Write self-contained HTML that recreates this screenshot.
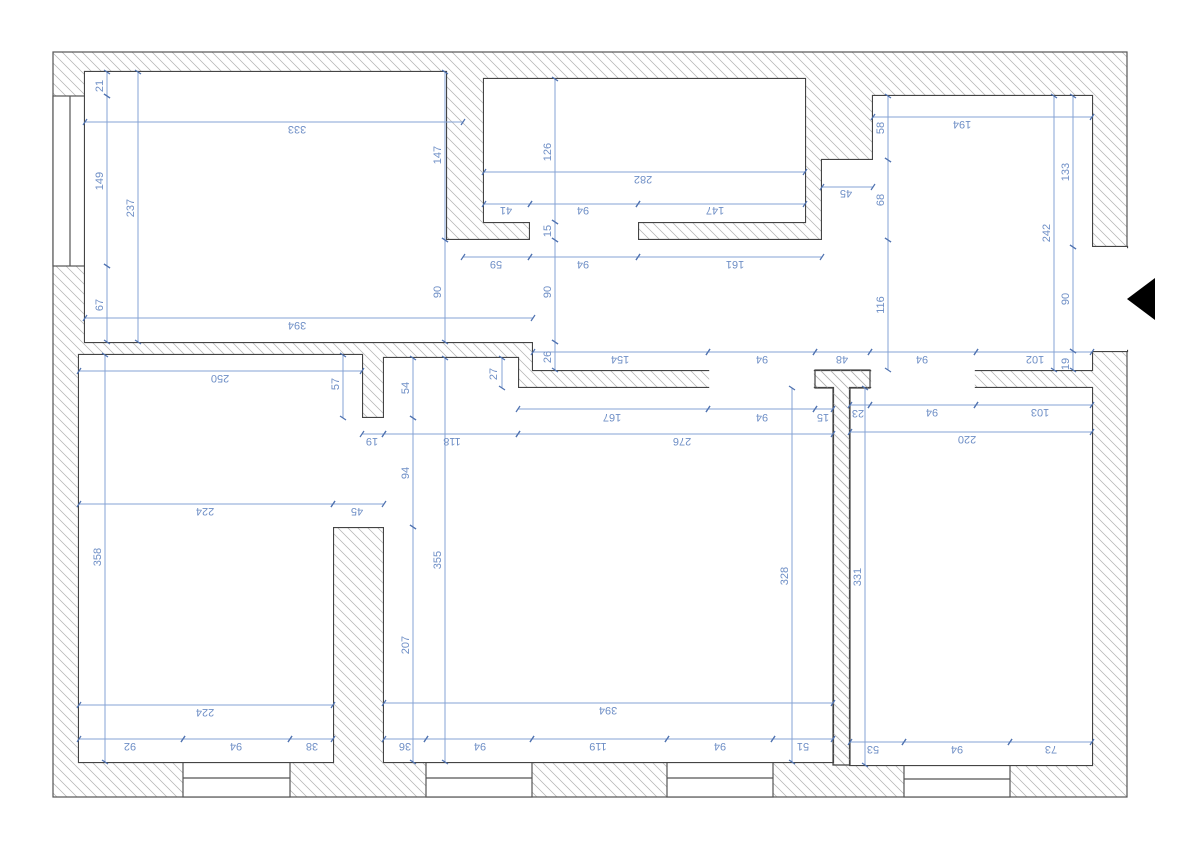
<!DOCTYPE html>
<html><head><meta charset="utf-8"><style>
html,body{margin:0;padding:0;background:#fff;}
svg{display:block;}
text{font-family:"Liberation Sans",sans-serif;font-size:11px;fill:#6f8fc6;text-anchor:middle;dominant-baseline:middle;}
.d{stroke:#86a3d4;stroke-width:1;fill:none;marker-start:url(#t);marker-end:url(#t);}
</style></head><body>
<svg width="1200" height="846" viewBox="0 0 1200 846" xmlns="http://www.w3.org/2000/svg">
<defs>
<pattern id="h" patternUnits="userSpaceOnUse" width="10" height="10">
<path d="M-2,-2 L12,12 M-2,8 L2,12 M8,-2 L12,2" stroke="#b0b0b0" stroke-width="0.7"/>
</pattern>
<marker id="t" viewBox="0 0 8 8" refX="4" refY="4" markerWidth="8" markerHeight="8" markerUnits="userSpaceOnUse" orient="auto">
<path d="M2,7 L6,1" stroke="#4f72b0" stroke-width="1.2"/>
</marker>
</defs>
<rect x="0" y="0" width="1200" height="846" fill="#fff"/>
<rect x="53" y="52" width="1074" height="745" fill="url(#h)" stroke="#555" stroke-width="1.2"/>

<rect x="53" y="96" width="32" height="170" fill="#fff" stroke="#555" stroke-width="1.2"/>
<line x1="70" y1="96" x2="70" y2="266" stroke="#555" stroke-width="1.2"/>
<g fill="#fff" stroke="#555" stroke-width="1.2">
<rect x="183" y="762" width="107" height="35"/><line x1="183" y1="778" x2="290" y2="778"/>
<rect x="426" y="762" width="106" height="35"/><line x1="426" y1="778" x2="532" y2="778"/>
<rect x="667" y="762" width="106" height="35"/><line x1="667" y1="778" x2="773" y2="778"/>
<rect x="904" y="765" width="106" height="32"/><line x1="904" y1="779" x2="1010" y2="779"/>
</g>

<g stroke="#444" stroke-width="2.2" fill="#fff">
<polygon points="85,72 446,72 446,240 530,240 530,222 484,222 484,79 805,79 805,222 638,222 638,240 822,240 822,160 873,160 873,96 1092,96 1092,247 1127,247 1127,351 1092,351 1092,370 533,370 533,342 85,342"/>
<polygon points="79,355 362,355 362,418 384,418 384,358 518,358 518,388 833,388 833,762 384,762 384,527 333,527 333,762 79,762"/>
<polygon points="850,388 1092,388 1092,765 850,765"/>
</g>
<g fill="#fff">
<polygon points="85,72 446,72 446,240 530,240 530,222 484,222 484,79 805,79 805,222 638,222 638,240 822,240 822,160 873,160 873,96 1092,96 1092,247 1127,247 1127,351 1092,351 1092,370 533,370 533,342 85,342"/>
<polygon points="79,355 362,355 362,418 384,418 384,358 518,358 518,388 833,388 833,762 384,762 384,527 333,527 333,762 79,762"/>
<polygon points="850,388 1092,388 1092,765 850,765"/>
<rect x="709.2" y="368" width="104.6" height="22"/>
<rect x="871.2" y="368" width="103.6" height="22"/>
<rect x="1093" y="248.2" width="45" height="101.6"/>
</g>
<polygon points="815,370 870,370 870,388 850,388 850,765 833,765 833,388 815,388" fill="url(#h)" stroke="#444" stroke-width="1.2"/>
<polygon points="1127,299 1155,278 1155,320" fill="#000"/>

<g>
<line class="d" x1="85" y1="122" x2="463" y2="122"/>
<line class="d" x1="85" y1="318" x2="533" y2="318"/>
<line class="d" x1="484" y1="172" x2="805" y2="172"/>
<line class="d" x1="484" y1="204" x2="530" y2="204"/>
<line class="d" x1="530" y1="204" x2="638" y2="204"/>
<line class="d" x1="638" y1="204" x2="805" y2="204"/>
<line class="d" x1="822" y1="187" x2="873" y2="187"/>
<line class="d" x1="463" y1="257" x2="530" y2="257"/>
<line class="d" x1="530" y1="257" x2="638" y2="257"/>
<line class="d" x1="638" y1="257" x2="822" y2="257"/>
<line class="d" x1="873" y1="117" x2="1092" y2="117"/>
<line class="d" x1="533" y1="352" x2="708" y2="352"/>
<line class="d" x1="708" y1="352" x2="815" y2="352"/>
<line class="d" x1="815" y1="352" x2="870" y2="352"/>
<line class="d" x1="870" y1="352" x2="976" y2="352"/>
<line class="d" x1="976" y1="352" x2="1092" y2="352"/>
<line class="d" x1="79" y1="371" x2="362" y2="371"/>
<line class="d" x1="518" y1="409" x2="708" y2="409"/>
<line class="d" x1="708" y1="409" x2="815" y2="409"/>
<line class="d" x1="815" y1="409" x2="833" y2="409"/>
<line class="d" x1="850" y1="405" x2="870" y2="405"/>
<line class="d" x1="870" y1="405" x2="976" y2="405"/>
<line class="d" x1="976" y1="405" x2="1092" y2="405"/>
<line class="d" x1="362" y1="434" x2="384" y2="434"/>
<line class="d" x1="384" y1="434" x2="518" y2="434"/>
<line class="d" x1="518" y1="434" x2="833" y2="434"/>
<line class="d" x1="850" y1="432" x2="1092" y2="432"/>
<line class="d" x1="79" y1="504" x2="333" y2="504"/>
<line class="d" x1="333" y1="504" x2="384" y2="504"/>
<line class="d" x1="79" y1="705" x2="333" y2="705"/>
<line class="d" x1="384" y1="703" x2="833" y2="703"/>
<line class="d" x1="79" y1="739" x2="183" y2="739"/>
<line class="d" x1="183" y1="739" x2="290" y2="739"/>
<line class="d" x1="290" y1="739" x2="333" y2="739"/>
<line class="d" x1="384" y1="739" x2="426" y2="739"/>
<line class="d" x1="426" y1="739" x2="532" y2="739"/>
<line class="d" x1="532" y1="739" x2="667" y2="739"/>
<line class="d" x1="667" y1="739" x2="773" y2="739"/>
<line class="d" x1="773" y1="739" x2="833" y2="739"/>
<line class="d" x1="850" y1="742" x2="904" y2="742"/>
<line class="d" x1="904" y1="742" x2="1010" y2="742"/>
<line class="d" x1="1010" y1="742" x2="1092" y2="742"/>
<line class="d" x1="107" y1="72" x2="107" y2="96"/>
<line class="d" x1="107" y1="96" x2="107" y2="266"/>
<line class="d" x1="107" y1="266" x2="107" y2="342"/>
<line class="d" x1="138" y1="72" x2="138" y2="342"/>
<line class="d" x1="445" y1="72" x2="445" y2="240"/>
<line class="d" x1="445" y1="240" x2="445" y2="342"/>
<line class="d" x1="555" y1="79" x2="555" y2="222"/>
<line class="d" x1="555" y1="222" x2="555" y2="240"/>
<line class="d" x1="555" y1="240" x2="555" y2="342"/>
<line class="d" x1="555" y1="342" x2="555" y2="370"/>
<line class="d" x1="888" y1="96" x2="888" y2="160"/>
<line class="d" x1="888" y1="160" x2="888" y2="240"/>
<line class="d" x1="888" y1="240" x2="888" y2="370"/>
<line class="d" x1="1054" y1="96" x2="1054" y2="370"/>
<line class="d" x1="1073" y1="96" x2="1073" y2="247"/>
<line class="d" x1="1073" y1="247" x2="1073" y2="351"/>
<line class="d" x1="1073" y1="351" x2="1073" y2="370"/>
<line class="d" x1="343" y1="355" x2="343" y2="418"/>
<line class="d" x1="413" y1="358" x2="413" y2="418"/>
<line class="d" x1="413" y1="418" x2="413" y2="527"/>
<line class="d" x1="413" y1="527" x2="413" y2="762"/>
<line class="d" x1="445" y1="358" x2="445" y2="762"/>
<line class="d" x1="502" y1="358" x2="502" y2="388"/>
<line class="d" x1="792" y1="388" x2="792" y2="762"/>
<line class="d" x1="105" y1="355" x2="105" y2="762"/>
<line class="d" x1="865" y1="388" x2="865" y2="765"/>
</g>

<g>
<text x="297" y="129" transform="rotate(180 297 129)">333</text>
<text x="297" y="325" transform="rotate(180 297 325)">394</text>
<text x="643" y="179" transform="rotate(180 643 179)">282</text>
<text x="506" y="210" transform="rotate(180 506 210)">41</text>
<text x="583" y="210" transform="rotate(180 583 210)">94</text>
<text x="715" y="210" transform="rotate(180 715 210)">147</text>
<text x="846" y="193" transform="rotate(180 846 193)">45</text>
<text x="496" y="264" transform="rotate(180 496 264)">59</text>
<text x="583" y="264" transform="rotate(180 583 264)">94</text>
<text x="735" y="264" transform="rotate(180 735 264)">161</text>
<text x="962" y="124" transform="rotate(180 962 124)">194</text>
<text x="620" y="359" transform="rotate(180 620 359)">154</text>
<text x="762" y="359" transform="rotate(180 762 359)">94</text>
<text x="842" y="359" transform="rotate(180 842 359)">48</text>
<text x="922" y="359" transform="rotate(180 922 359)">94</text>
<text x="1035" y="359" transform="rotate(180 1035 359)">102</text>
<text x="220" y="378" transform="rotate(180 220 378)">250</text>
<text x="612" y="417" transform="rotate(180 612 417)">167</text>
<text x="762" y="417" transform="rotate(180 762 417)">94</text>
<text x="823" y="417" transform="rotate(180 823 417)">15</text>
<text x="858" y="413" transform="rotate(180 858 413)">23</text>
<text x="932" y="412" transform="rotate(180 932 412)">94</text>
<text x="1040" y="412" transform="rotate(180 1040 412)">103</text>
<text x="372" y="441" transform="rotate(180 372 441)">19</text>
<text x="452" y="441" transform="rotate(180 452 441)">118</text>
<text x="682" y="441" transform="rotate(180 682 441)">276</text>
<text x="967" y="439" transform="rotate(180 967 439)">220</text>
<text x="205" y="511" transform="rotate(180 205 511)">224</text>
<text x="357" y="511" transform="rotate(180 357 511)">45</text>
<text x="205" y="712" transform="rotate(180 205 712)">224</text>
<text x="608" y="710" transform="rotate(180 608 710)">394</text>
<text x="130" y="746" transform="rotate(180 130 746)">92</text>
<text x="236" y="746" transform="rotate(180 236 746)">94</text>
<text x="312" y="746" transform="rotate(180 312 746)">38</text>
<text x="405" y="746" transform="rotate(180 405 746)">36</text>
<text x="480" y="746" transform="rotate(180 480 746)">94</text>
<text x="598" y="746" transform="rotate(180 598 746)">119</text>
<text x="720" y="746" transform="rotate(180 720 746)">94</text>
<text x="803" y="746" transform="rotate(180 803 746)">51</text>
<text x="873" y="749" transform="rotate(180 873 749)">53</text>
<text x="957" y="749" transform="rotate(180 957 749)">94</text>
<text x="1051" y="749" transform="rotate(180 1051 749)">73</text>
</g>
<g>
<text x="100" y="86" transform="rotate(-90 100 86)">21</text>
<text x="100" y="181" transform="rotate(-90 100 181)">149</text>
<text x="100" y="305" transform="rotate(-90 100 305)">67</text>
<text x="131" y="208" transform="rotate(-90 131 208)">237</text>
<text x="438" y="155" transform="rotate(-90 438 155)">147</text>
<text x="438" y="292" transform="rotate(-90 438 292)">90</text>
<text x="548" y="152" transform="rotate(-90 548 152)">126</text>
<text x="548" y="231" transform="rotate(-90 548 231)">15</text>
<text x="548" y="292" transform="rotate(-90 548 292)">90</text>
<text x="548" y="357" transform="rotate(-90 548 357)">26</text>
<text x="881" y="128" transform="rotate(-90 881 128)">58</text>
<text x="881" y="200" transform="rotate(-90 881 200)">68</text>
<text x="881" y="305" transform="rotate(-90 881 305)">116</text>
<text x="1047" y="233" transform="rotate(-90 1047 233)">242</text>
<text x="1066" y="172" transform="rotate(-90 1066 172)">133</text>
<text x="1066" y="299" transform="rotate(-90 1066 299)">90</text>
<text x="1066" y="364" transform="rotate(-90 1066 364)">19</text>
<text x="336" y="384" transform="rotate(-90 336 384)">57</text>
<text x="406" y="388" transform="rotate(-90 406 388)">54</text>
<text x="406" y="473" transform="rotate(-90 406 473)">94</text>
<text x="406" y="645" transform="rotate(-90 406 645)">207</text>
<text x="438" y="560" transform="rotate(-90 438 560)">355</text>
<text x="494" y="374" transform="rotate(-90 494 374)">27</text>
<text x="785" y="576" transform="rotate(-90 785 576)">328</text>
<text x="98" y="557" transform="rotate(-90 98 557)">358</text>
<text x="858" y="577" transform="rotate(-90 858 577)">331</text>
</g>
</svg>
</body></html>
